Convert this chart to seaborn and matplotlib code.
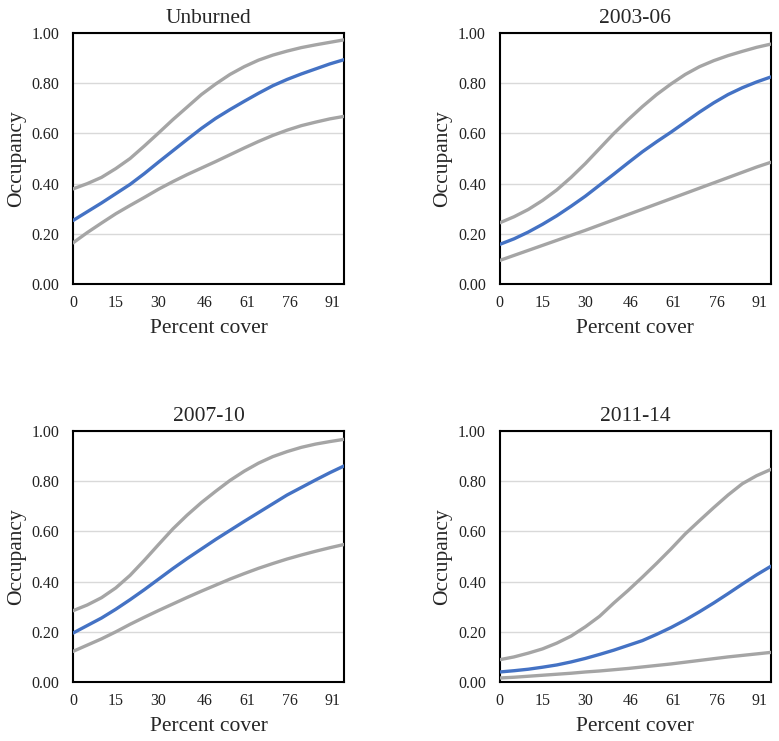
import pandas as pd
import numpy as np
import matplotlib.pyplot as plt
import seaborn as sns

sns.set_theme(style="white")
plt.rcParams['font.family'] = ['Liberation Serif', 'DejaVu Serif']

# percent cover (x) at which the curves were read
cover = [0, 5, 10, 15, 20, 25, 30, 35, 40, 45, 50, 55, 60, 65, 70, 75, 80, 85, 90, 95]

panels = ["Unburned", "2003-06", "2007-10", "2011-14"]

unburned_hi = [0.379, 0.400, 0.425, 0.460, 0.500, 0.550, 0.602, 0.655, 0.705, 0.755, 0.797, 0.835,
               0.866, 0.892, 0.912, 0.928, 0.942, 0.953, 0.963, 0.973]
unburned_mid = [0.253, 0.288, 0.323, 0.360, 0.397, 0.440, 0.486, 0.531, 0.576, 0.620, 0.660, 0.695,
                0.728, 0.760, 0.790, 0.815, 0.837, 0.857, 0.877, 0.894]
unburned_lo = [0.164, 0.205, 0.243, 0.280, 0.313, 0.345, 0.378, 0.408, 0.436, 0.462, 0.488, 0.515,
               0.542, 0.568, 0.592, 0.613, 0.631, 0.645, 0.658, 0.668]

p0306_hi = [0.244, 0.268, 0.297, 0.333, 0.375, 0.425, 0.480, 0.540, 0.600, 0.655, 0.707, 0.755,
            0.797, 0.835, 0.866, 0.890, 0.910, 0.927, 0.943, 0.956]
p0306_mid = [0.158, 0.180, 0.207, 0.238, 0.272, 0.310, 0.350, 0.394, 0.438, 0.483, 0.527, 0.567,
             0.605, 0.645, 0.685, 0.722, 0.755, 0.782, 0.805, 0.825]
p0306_lo = [0.094, 0.114, 0.134, 0.154, 0.174, 0.194, 0.214, 0.235, 0.256, 0.277, 0.298, 0.319,
            0.340, 0.361, 0.382, 0.403, 0.424, 0.445, 0.466, 0.485]

p0710_hi = [0.284, 0.307, 0.336, 0.375, 0.425, 0.485, 0.548, 0.610, 0.665, 0.715, 0.760, 0.803,
            0.840, 0.872, 0.898, 0.918, 0.935, 0.948, 0.958, 0.967]
p0710_mid = [0.195, 0.225, 0.255, 0.290, 0.328, 0.368, 0.410, 0.452, 0.492, 0.530, 0.568, 0.604,
             0.640, 0.675, 0.710, 0.745, 0.775, 0.805, 0.834, 0.861]
p0710_lo = [0.122, 0.147, 0.172, 0.200, 0.230, 0.258, 0.285, 0.311, 0.337, 0.362, 0.386, 0.410,
            0.432, 0.453, 0.472, 0.490, 0.506, 0.521, 0.535, 0.548]

p1114_hi = [0.089, 0.100, 0.115, 0.132, 0.155, 0.183, 0.220, 0.262, 0.315, 0.365, 0.418, 0.473,
            0.530, 0.590, 0.643, 0.695, 0.745, 0.790, 0.822, 0.847]
p1114_mid = [0.040, 0.045, 0.051, 0.059, 0.068, 0.080, 0.094, 0.110, 0.127, 0.146, 0.165, 0.190,
             0.217, 0.247, 0.280, 0.315, 0.352, 0.390, 0.427, 0.461]
p1114_lo = [0.016, 0.019, 0.023, 0.027, 0.031, 0.035, 0.040, 0.044, 0.049, 0.054, 0.060, 0.066,
            0.072, 0.079, 0.086, 0.093, 0.100, 0.106, 0.112, 0.118]

series = {
    "Unburned": (unburned_lo, unburned_mid, unburned_hi),
    "2003-06": (p0306_lo, p0306_mid, p0306_hi),
    "2007-10": (p0710_lo, p0710_mid, p0710_hi),
    "2011-14": (p1114_lo, p1114_mid, p1114_hi),
}

xtick_vals = [0, 15, 30, 46, 61, 76, 91]
ytick_vals = [0.0, 0.2, 0.4, 0.6, 0.8, 1.0]

palette = {"lower": "#A5A5A5", "upper": "#A5A5A5", "estimate": "#4472C4"}

fig = plt.figure(figsize=(7.79, 7.41), dpi=100)
lefts = [0.0937, 0.6415]
bottoms = [0.6167, 0.0796]
w, h = 0.348, 0.3387

for i, name in enumerate(panels):
    ax = fig.add_axes([lefts[i % 2], bottoms[i // 2], w, h])
    lo, mid, hi = series[name]
    n = len(cover)
    df = pd.DataFrame({
        "cover": cover * 3,
        "occ": lo + hi + mid,
        "band": ["lower"] * n + ["upper"] * n + ["estimate"] * n,
    })
    sns.lineplot(data=df, x="cover", y="occ", hue="band", palette=palette,
                 linewidth=2.4, legend=False, ax=ax, zorder=3)
    ax.set_xlim(0, 95)
    ax.set_ylim(0, 1)
    ax.set_xticks(xtick_vals)
    ax.set_xticklabels([str(v) for v in xtick_vals])
    ax.set_yticks(ytick_vals)
    ax.set_yticklabels([f"{v:.2f}" for v in ytick_vals])
    ax.yaxis.grid(True, color="#D9D9D9", linewidth=1.0)
    ax.xaxis.grid(False)
    ax.tick_params(axis="both", length=0, labelsize=11.5, colors="#222222")
    ax.tick_params(axis="y", pad=10)
    ax.tick_params(axis="x", pad=8)
    for s in ax.spines.values():
        s.set_color("black")
        s.set_linewidth(1.5)
    ax.set_title(name, fontsize=15.5, pad=7)
    ax.set_xlabel("Percent cover", fontsize=15.5, labelpad=6)
    ax.set_ylabel("Occupancy", fontsize=15.5, labelpad=4)

plt.savefig("out.png", dpi=100)
